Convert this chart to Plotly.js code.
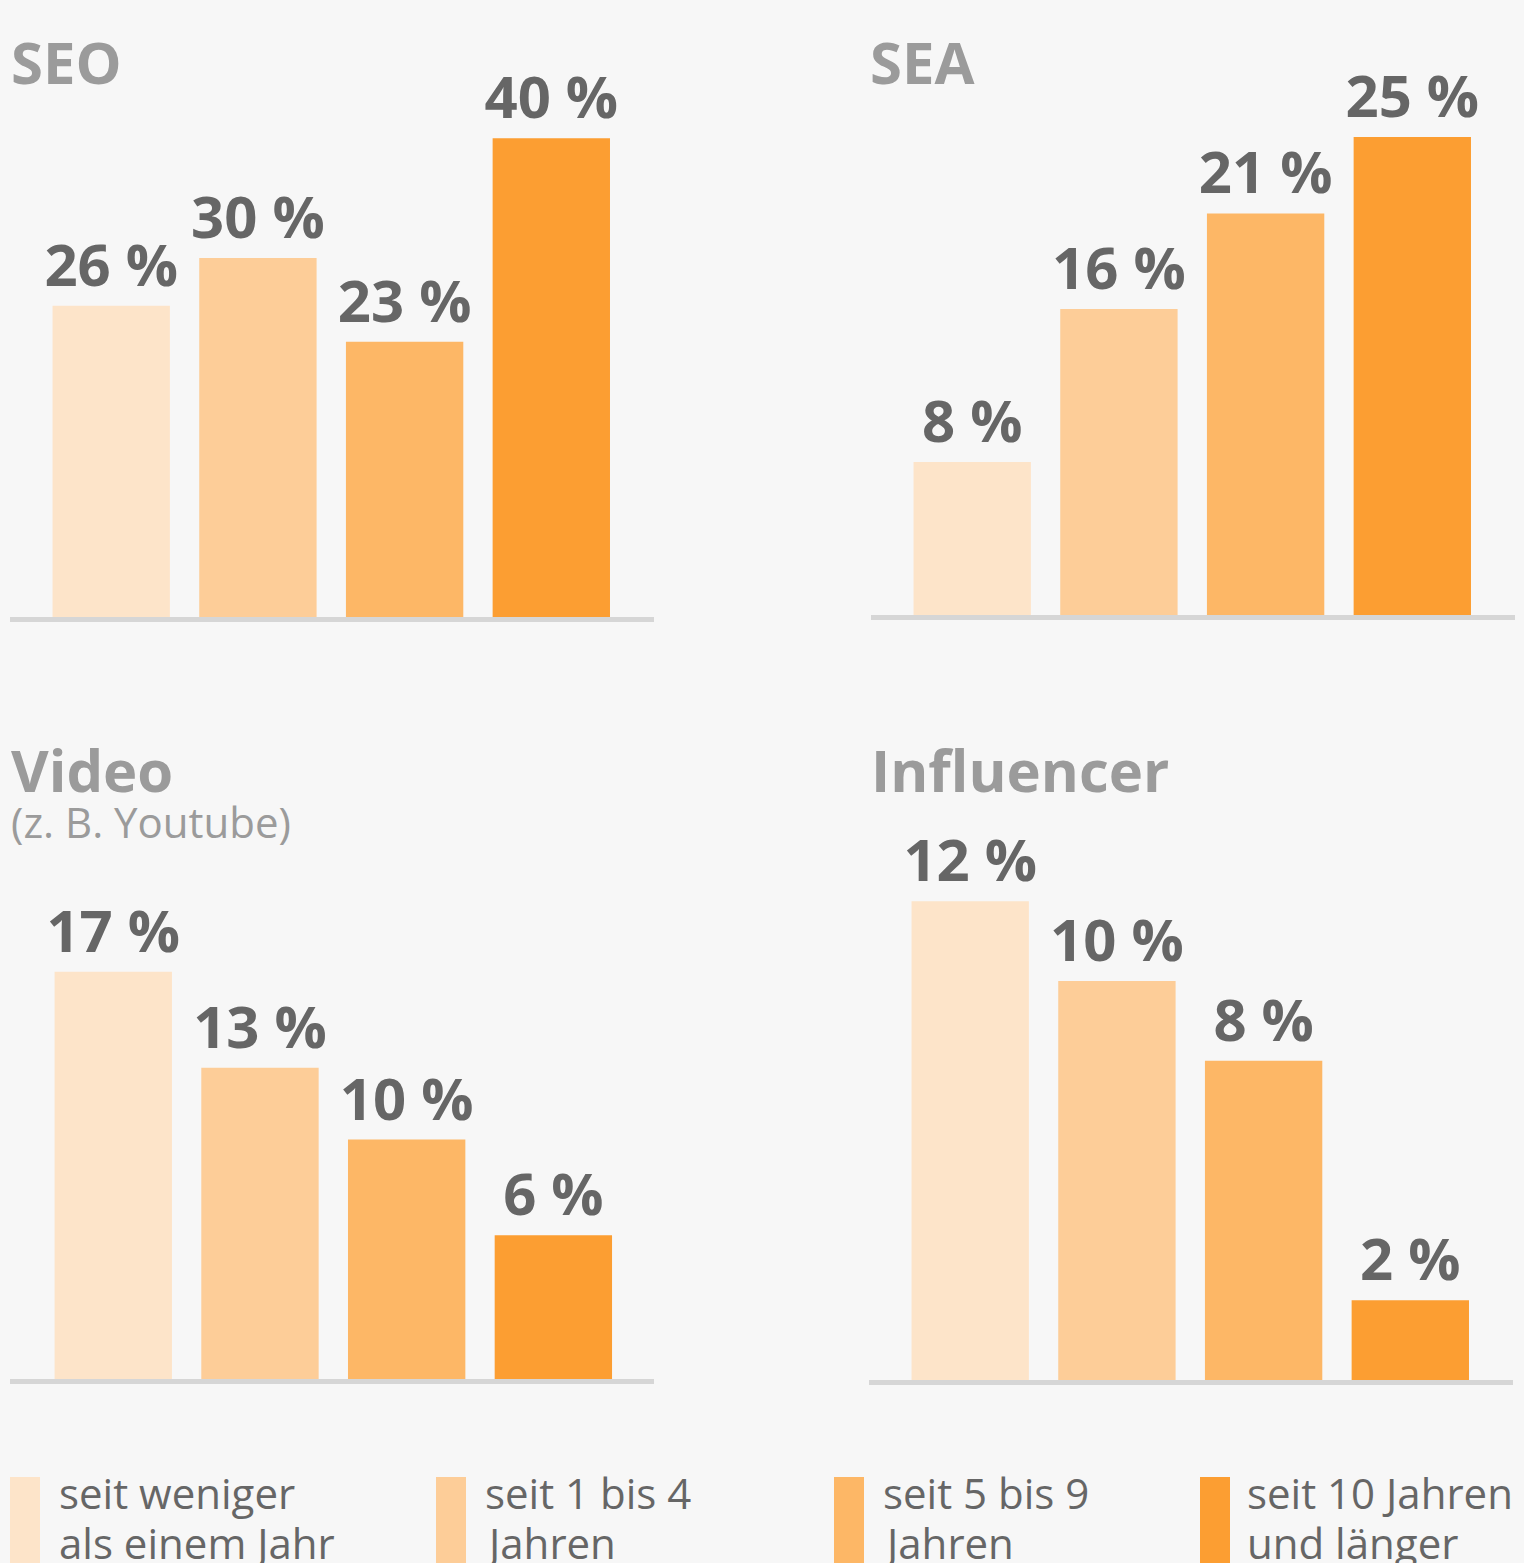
<!DOCTYPE html>
<html><head><meta charset="utf-8">
<script src="https://cdn.plot.ly/plotly-3.0.1.min.js"></script>
<style>html,body{margin:0;padding:0;background:#f7f7f7;} #chart{width:1524px;height:1563px;}</style>
</head><body><div id="chart"></div>
<script>
// ---- data ----
const categories = ['seit weniger als einem Jahr', 'seit 1 bis 4 Jahren', 'seit 5 bis 9 Jahren', 'seit 10 Jahren und länger'];
const legendLine1 = ['seit weniger', 'seit 1 bis 4', 'seit 5 bis 9', 'seit 10 Jahren'];
const legendLine2 = ['als einem Jahr', 'Jahren', 'Jahren', 'und länger'];
const seo = [26, 30, 23, 40];
const sea = [8, 16, 21, 25];
const video = [17, 13, 10, 6];
const influencer = [12, 10, 8, 2];
const panelTitles = ['SEO', 'SEA', 'Video', 'Influencer'];
const videoSubtitle = '(z. B. Youtube)';
const colors = ['#FDE4C9', '#FDCD98', '#FDB766', '#FC9E32'];

// ---- layout helpers (pixels) ----
const W = 1524, H = 1563;
const fx = p => p / W;
const fy = p => (H - p) / H;

const series = [seo, sea, video, influencer];
const panels = [
  {x0: 10,  x1: 654,  base: 617,  scale: 11.97, ymax: 45, r0: -0.69,  r1: 3.70, tx: 9,   ty: 62},
  {x0: 871, x1: 1515, base: 615,  scale: 19.12, ymax: 28, r0: -0.69,  r1: 3.70, tx: 868, ty: 62},
  {x0: 10,  x1: 654,  base: 1379, scale: 23.95, ymax: 21, r0: -0.704, r1: 3.686, tx: 9,  ty: 769},
  {x0: 869, x1: 1513, base: 1380, scale: 39.9,  ymax: 13, r0: -0.69,  r1: 3.70, tx: 869, ty: 769}
];

const data = [];
const layout = {
  width: W, height: H,
  margin: {l: 0, r: 0, t: 0, b: 0},
  paper_bgcolor: '#f7f7f7', plot_bgcolor: 'rgba(0,0,0,0)',
  showlegend: false,
  font: {family: 'Open Sans, sans-serif'},
  annotations: [], shapes: []
};

panels.forEach((p, i) => {
  const n = i + 1;
  const xa = n === 1 ? 'xaxis' : 'xaxis' + n;
  const ya = n === 1 ? 'yaxis' : 'yaxis' + n;
  data.push({
    type: 'bar',
    x: categories, y: series[i],
    xaxis: 'x' + (n === 1 ? '' : n), yaxis: 'y' + (n === 1 ? '' : n),
    marker: {color: colors, line: {width: 0}},
    width: 0.8,
    text: series[i].map(v => v + ' %'),
    textposition: 'outside',
    constraintext: 'none',
    cliponaxis: false,
    textfont: {family: 'Open Sans', size: 58, color: '#666666', weight: 700},
    hoverinfo: 'none'
  });
  layout[xa] = {
    domain: [fx(p.x0), fx(p.x1)],
    anchor: 'y' + (n === 1 ? '' : n),
    type: 'category',
    range: [p.r0, p.r1],
    showticklabels: false, showgrid: false, zeroline: false, ticks: '',
    showline: true, linecolor: '#d6d6d6', linewidth: 5,
    fixedrange: true
  };
  const top = p.base - p.ymax * p.scale;
  layout[ya] = {
    domain: [fy(p.base), fy(top)],
    anchor: 'x' + (n === 1 ? '' : n),
    range: [0, p.ymax],
    visible: false, showgrid: false, zeroline: false, fixedrange: true
  };
  layout.annotations.push({
    xref: 'paper', yref: 'paper', x: fx(p.tx), y: fy(p.ty),
    xanchor: 'left', yanchor: 'middle', showarrow: false,
    text: panelTitles[i],
    font: {family: 'Open Sans', size: 58, color: '#9b9b9b', weight: 700}
  });
});

layout.annotations.push({
  xref: 'paper', yref: 'paper', x: fx(9), y: fy(822),
  xanchor: 'left', yanchor: 'middle', showarrow: false,
  text: videoSubtitle,
  font: {family: 'Open Sans', size: 42, color: '#9b9b9b'}
});

// legend
const legRectX = [10, 436, 834, 1200];
const legTextX = [57, 483, 881, 1245];
legRectX.forEach((x, i) => {
  layout.shapes.push({
    type: 'rect', xref: 'paper', yref: 'paper',
    x0: fx(x), x1: fx(x + 30), y0: fy(1477), y1: 0,
    fillcolor: colors[i], line: {width: 0}
  });
  layout.annotations.push({
    xref: 'paper', yref: 'paper', x: fx(legTextX[i]), y: fy(1492),
    xanchor: 'left', yanchor: 'middle', showarrow: false,
    text: legendLine1[i],
    font: {family: 'Open Sans', size: 42, color: '#666666'}
  });
  layout.annotations.push({
    xref: 'paper', yref: 'paper', x: fx(legTextX[i]), y: fy(1542),
    xanchor: 'left', yanchor: 'middle', showarrow: false,
    text: legendLine2[i],
    font: {family: 'Open Sans', size: 42, color: '#666666'}
  });
});

Plotly.newPlot('chart', data, layout, {displayModeBar: false, staticPlot: true});
</script>
</body></html>
